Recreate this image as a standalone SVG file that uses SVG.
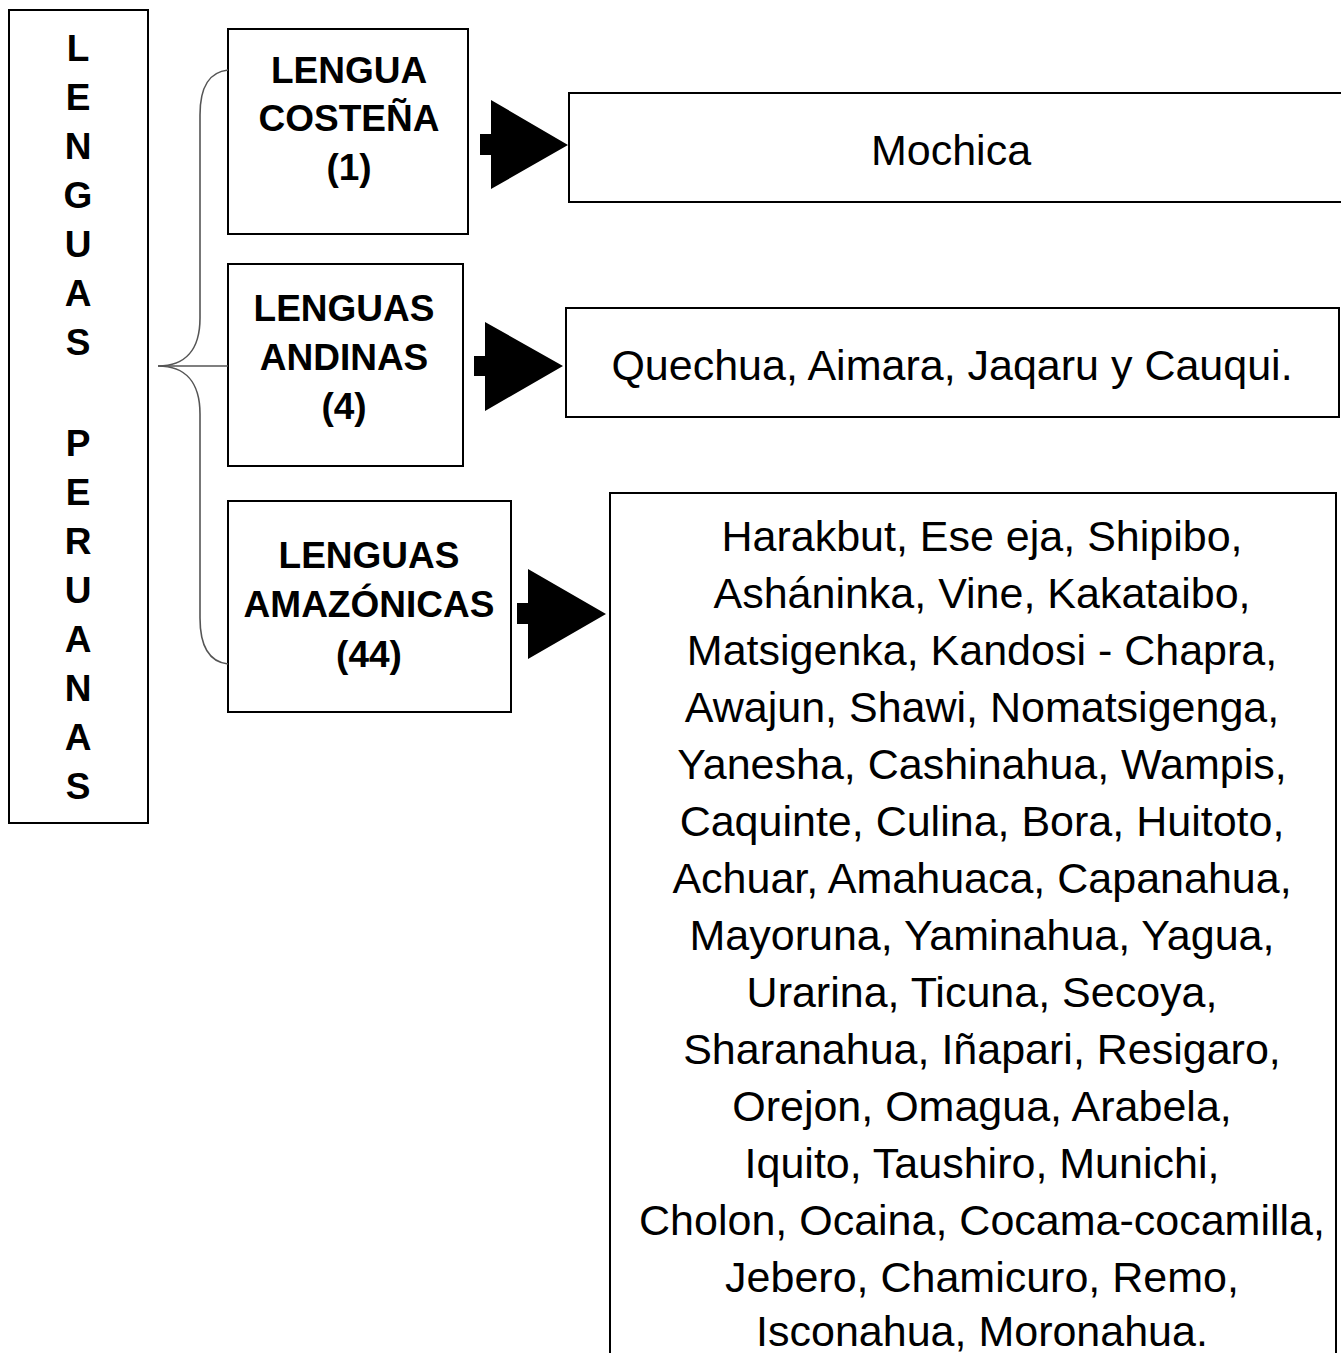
<svg xmlns="http://www.w3.org/2000/svg" width="1341" height="1353" viewBox="0 0 1341 1353">
<style>
.box{fill:#fff;stroke:#000;stroke-width:2}
.b{font-family:"Liberation Sans",Arial,sans-serif;font-weight:bold;font-size:37px;fill:#000;text-anchor:middle}
.r{font-family:"Liberation Sans",Arial,sans-serif;font-size:43px;fill:#000;text-anchor:middle}
.brace{fill:none;stroke:#555;stroke-width:1.6}
.arr{fill:#000}
</style>
<rect width="1341" height="1353" fill="#fff"/>
<g id="root">
<rect class="box" x="9" y="10" width="139" height="813"/>
<text class="b" x="78" y="61">L</text>
<text class="b" x="78" y="110">E</text>
<text class="b" x="78" y="159">N</text>
<text class="b" x="78" y="208">G</text>
<text class="b" x="78" y="257">U</text>
<text class="b" x="78" y="306">A</text>
<text class="b" x="78" y="355">S</text>
<text class="b" x="78" y="456">P</text>
<text class="b" x="78" y="505">E</text>
<text class="b" x="78" y="554">R</text>
<text class="b" x="78" y="603">U</text>
<text class="b" x="78" y="652">A</text>
<text class="b" x="78" y="701">N</text>
<text class="b" x="78" y="750">A</text>
<text class="b" x="78" y="799">S</text>
</g>
<g id="costena">
<rect class="box" x="228" y="29" width="240" height="205"/>
<text class="b" x="349" y="83">LENGUA</text>
<text class="b" x="349" y="131">COSTEÑA</text>
<text class="b" x="349" y="180">(1)</text>
</g>
<g id="andinas">
<rect class="box" x="228" y="264" width="235" height="202"/>
<text class="b" x="344" y="321">LENGUAS</text>
<text class="b" x="344" y="370">ANDINAS</text>
<text class="b" x="344" y="419">(4)</text>
</g>
<g id="amazonicas">
<rect class="box" x="228" y="501" width="283" height="211"/>
<text class="b" x="369" y="568">LENGUAS</text>
<text class="b" x="369" y="617">AMAZÓNICAS</text>
<text class="b" x="369" y="667">(44)</text>
</g>
<g id="mochica">
<rect class="box" x="569" y="93" width="780" height="109"/>
<text class="r" x="951" y="165">Mochica</text>
</g>
<g id="quechua">
<rect class="box" x="566" y="308" width="773" height="109"/>
<text class="r" x="952" y="380">Quechua, Aimara, Jaqaru y Cauqui.</text>
</g>
<g id="amazon-list">
<rect class="box" x="610" y="493" width="726" height="900"/>
<text class="r" x="982" y="551">Harakbut, Ese eja, Shipibo,</text>
<text class="r" x="982" y="608">Asháninka, Vine, Kakataibo,</text>
<text class="r" x="982" y="665">Matsigenka, Kandosi - Chapra,</text>
<text class="r" x="982" y="722">Awajun, Shawi, Nomatsigenga,</text>
<text class="r" x="982" y="779">Yanesha, Cashinahua, Wampis,</text>
<text class="r" x="982" y="836">Caquinte, Culina, Bora, Huitoto,</text>
<text class="r" x="982" y="893">Achuar, Amahuaca, Capanahua,</text>
<text class="r" x="982" y="950">Mayoruna, Yaminahua, Yagua,</text>
<text class="r" x="982" y="1007">Urarina, Ticuna, Secoya,</text>
<text class="r" x="982" y="1064">Sharanahua, Iñapari, Resigaro,</text>
<text class="r" x="982" y="1121">Orejon, Omagua, Arabela,</text>
<text class="r" x="982" y="1178">Iquito, Taushiro, Munichi,</text>
<text class="r" x="982" y="1235">Cholon, Ocaina, Cocama-cocamilla,</text>
<text class="r" x="982" y="1292">Jebero, Chamicuro, Remo,</text>
<text class="r" x="982" y="1346">Isconahua, Moronahua.</text>
</g>
<g id="connectors">
<path class="brace" d="M228,70 C210,72 200,85 200,115 L200,318 C200,350 185,366 158,366 C185,366 200,382 200,414 L200,618 C200,648 210,662 228,664"/>
<line class="brace" x1="158" y1="366" x2="228" y2="366"/>
<path class="arr" d="M480,134 H491 V100 L568,145 L491,189 V155 H480 Z"/>
<path class="arr" d="M474,356 H485 V322 L563,366 L485,411 V376 H474 Z"/>
<path class="arr" d="M517,603 H528 V569 L606,614 L528,659 V624 H517 Z"/>
</g>
</svg>
